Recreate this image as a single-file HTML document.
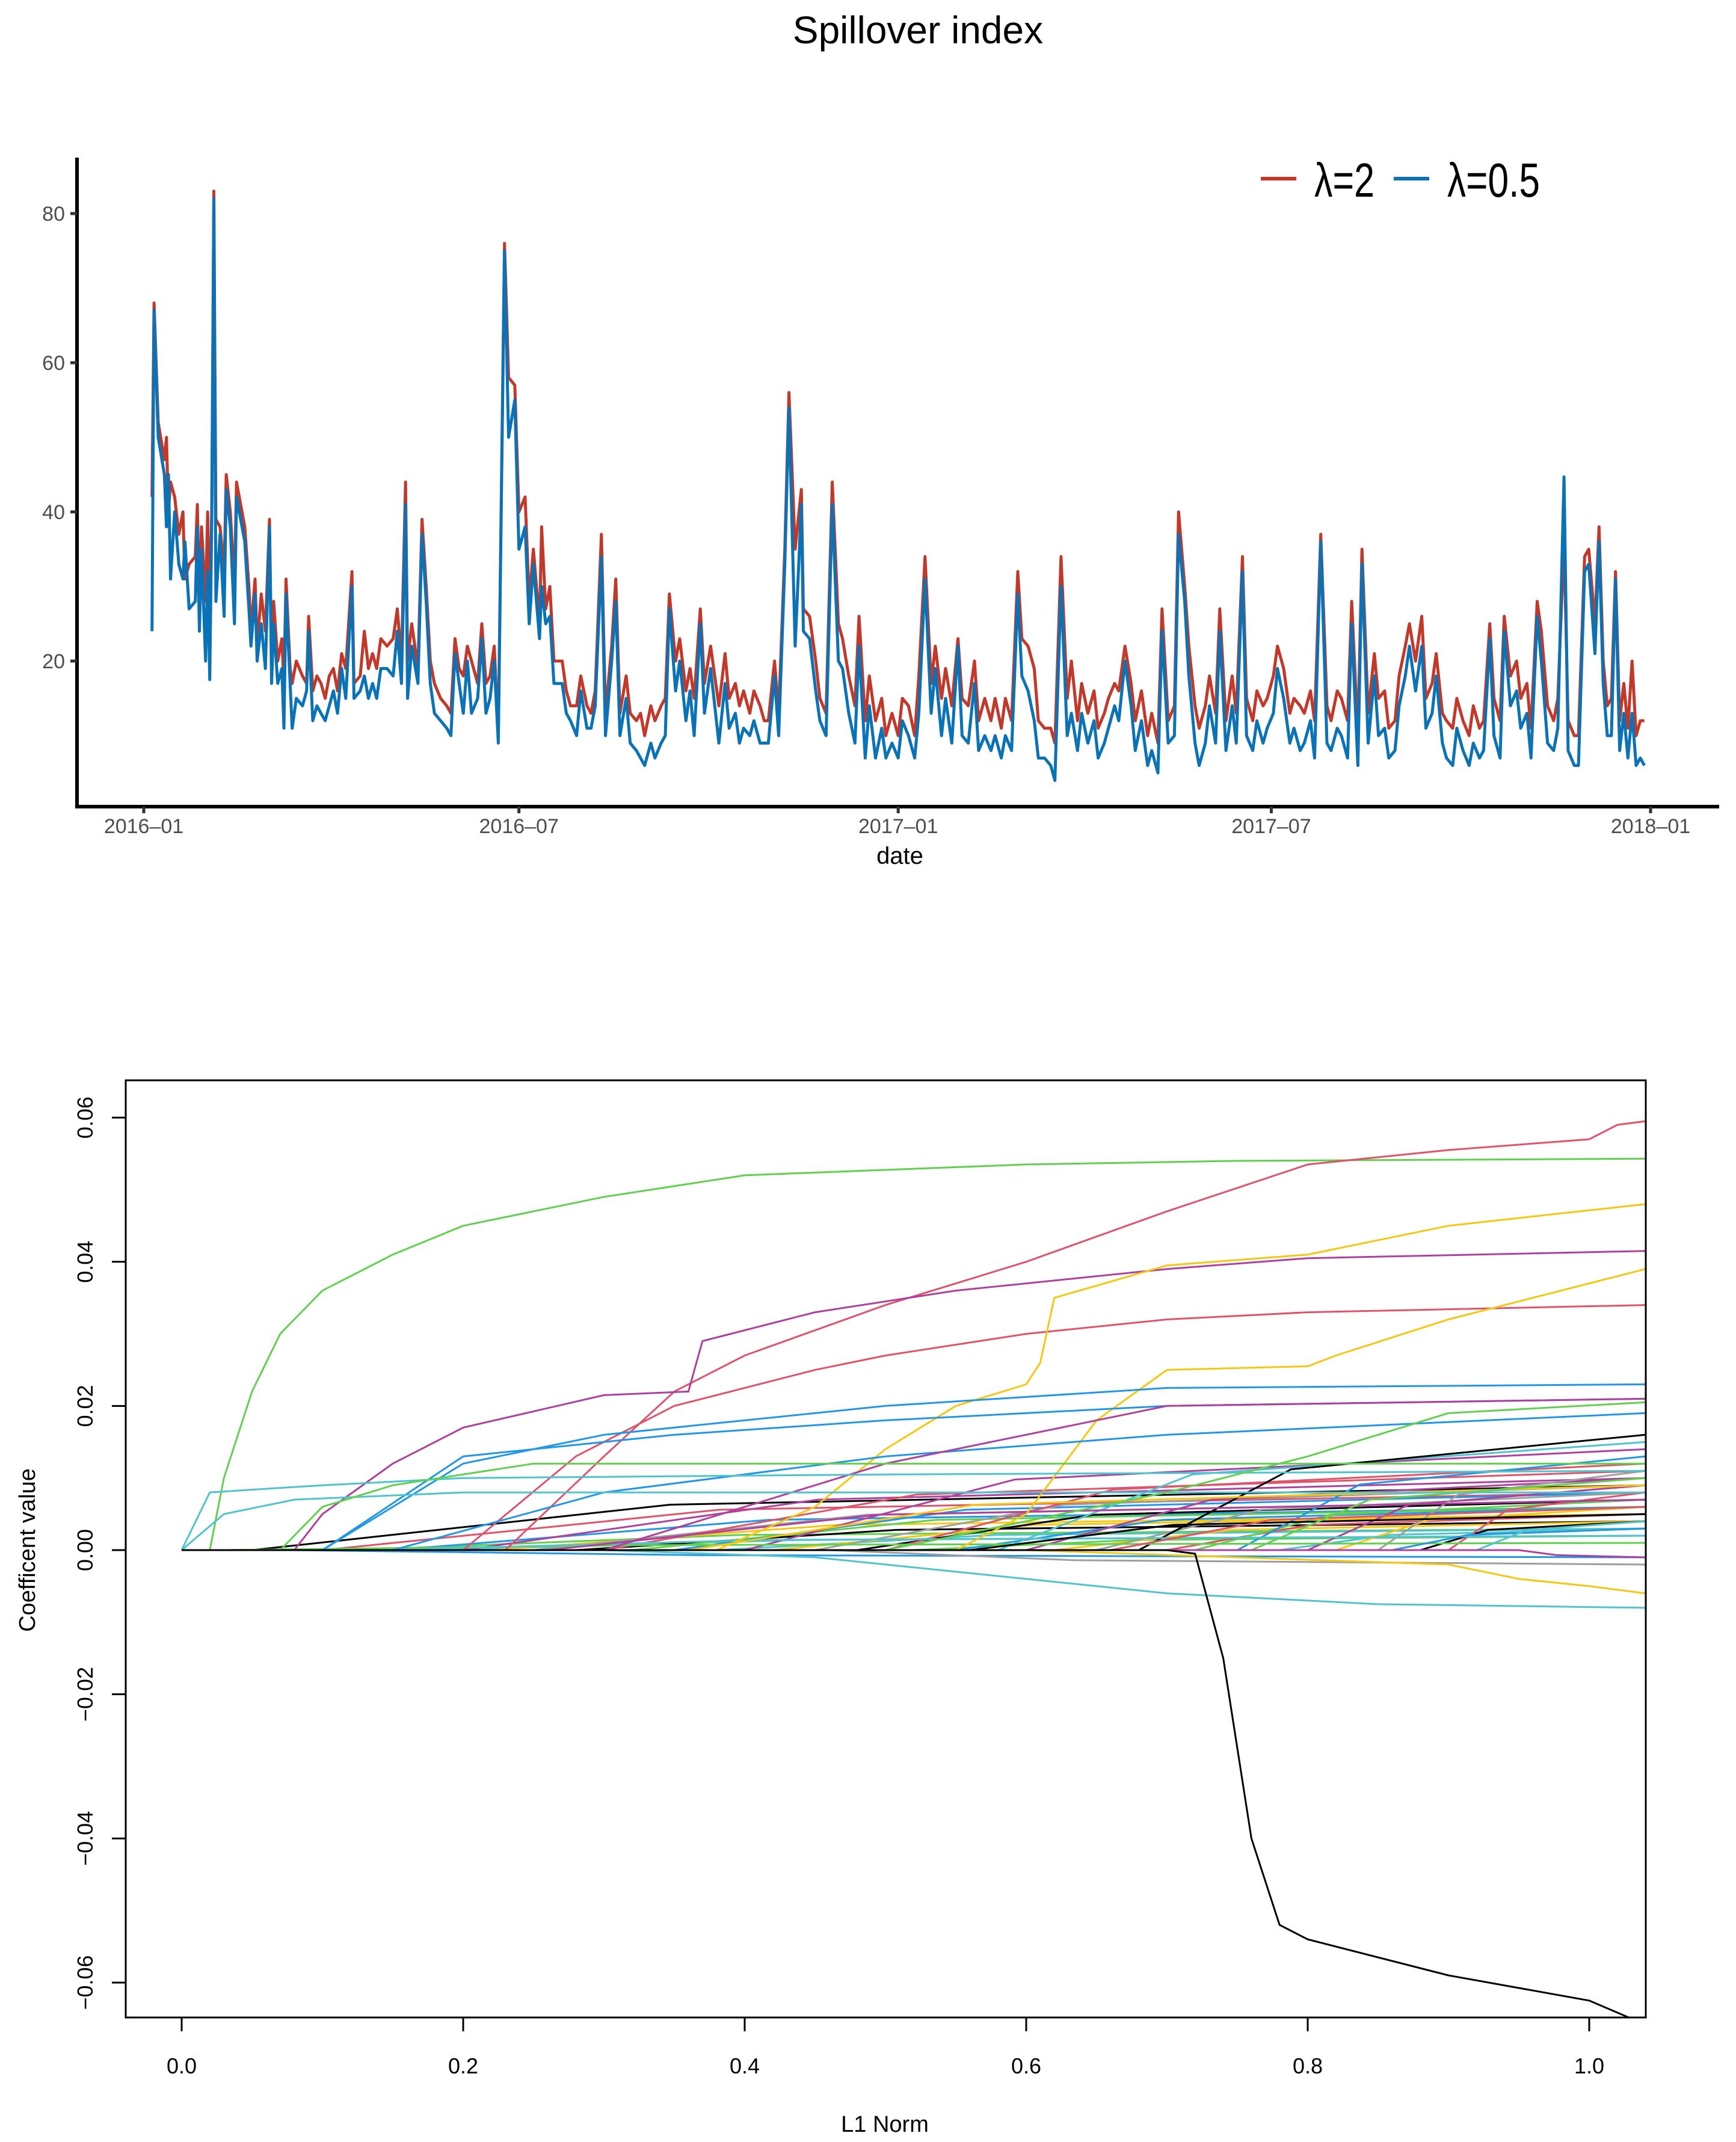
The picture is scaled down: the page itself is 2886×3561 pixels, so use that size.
<!DOCTYPE html>
<html><head><meta charset="utf-8"><style>
html,body{margin:0;padding:0;background:#fff}
svg{display:block}
text{font-family:"Liberation Sans",sans-serif}
</style></head><body>
<svg id="fig" xmlns="http://www.w3.org/2000/svg" width="2886" height="3561" viewBox="0 0 2886 3561">
<rect x="0" y="0" width="2886" height="3561" fill="#fff"/>
<text x="1526" y="72" font-size="64" text-anchor="middle" fill="#000">Spillover index</text>
<g id="top"></g>
<g id="bot"></g>
</svg>
<script>
// ---------- Top chart data ----------
const tDays = [4,5,7,10,11,12,13,15,17,19,20,22,25,26,27,28,30,31,32,33,34,35,37,39,40,42,44,45,49,51,52,54,55,57,59,61,62,63,65,67,68,69,71,72,74,77,79,80,82,84,86,88,90,92,94,96,98,101,102,105,107,109,111,113,115,118,121,123,125,127,128,130,133,135,137,139,141,144,147,149,151,153,155,157,159,162,164,166,168,170,172,175,177,180,182,185,187,189,192,193,195,197,199,203,205,207,210,212,215,217,219,222,224,227,229,231,234,236,239,241,243,246,248,251,253,255,258,260,263,265,267,270,272,275,277,279,282,284,287,289,291,294,296,299,301,303,306,308,311,313,316,319,320,323,326,328,331,334,337,339,342,345,347,350,352,355,358,360,363,366,368,371,374,376,379,382,384,387,389,392,395,397,400,403,405,408,411,413,416,418,421,424,426,429,432,434,437,440,442,445,448,450,453,455,458,461,463,466,468,471,473,476,479,481,484,487,489,492,494,497,500,502,505,507,510,512,515,517,520,522,525,528,530,533,535,538,540,543,545,548,550,553,556,558,561,563,566,568,571,574,576,579,581,584,586,589,591,594,597,599,602,604,607,609,612,614,617,620,622,625,627,630,632,635,637,640,643,645,648,650,653,655,658,660,663,666,668,671,673,676,678,681,684,686,689,691,694,696,699,701,704,706,708,710,712,714,716,718,720,722,724,726,728];
const redVals = [42,68,52,47,50,40,44,42,37,40,31,33,34,41,27,38,28,40,24,41,83,39,38,32,45,40,30,44,38,30,24,31,22,29,24,39,20,28,20,23,17,31,19,17,20,18,17,26,16,18,17,15,18,19,16,21,19,32,17,18,24,19,21,19,23,22,23,27,20,44,20,25,19,39,30,20,17,15,14,13,23,19,18,22,20,17,25,17,18,22,10,76,58,57,40,42,28,35,25,38,27,30,20,20,16,14,14,18,14,13,16,37,13,22,31,13,18,13,12,13,10,14,12,14,15,29,20,23,16,19,15,27,17,22,18,14,21,15,17,14,16,13,16,14,12,12,20,13,35,56,35,43,27,26,20,15,13,44,25,23,18,14,26,12,18,12,15,10,13,10,15,14,10,18,34,17,22,15,19,14,23,15,14,20,12,15,12,15,11,15,12,32,23,22,19,12,11,11,9,34,15,20,12,17,13,16,11,13,15,17,16,22,17,12,16,10,13,9,27,12,14,40,30,22,14,11,14,18,13,27,12,18,13,34,15,12,16,14,15,18,22,19,13,15,14,13,16,12,37,14,12,16,15,12,28,10,35,13,21,15,16,11,12,18,22,25,20,26,15,17,21,13,12,11,15,12,10,14,11,12,25,15,12,26,18,20,15,17,11,28,24,14,12,15,36,12,10,10,34,35,25,38,20,14,15,32,12,17,11,20,10,12,12,11,12];
const blueVals = [24,67,50,45,38,45,31,40,33,31,36,27,28,38,24,35,20,32,17.5,40,82,28,37,26,43,38,25,42,36,27,22,29,20,25,19,38,17,25,17,19,11,29,17,11,15,14,16,24,12,14,13,12,14,16,13,19,15,30,15,16,18,15,17,15,19,19,18,24,17,41,15,22,17,37,28,17,13,12,11,10,21,17,13,20,13,15,23,13,15,20,9,75,50,55,35,38,25,33,23,30,25,26,17,17,13,12,10,16,11,11,14,34,10,20,28,10,15,9,8,7,6,9,7,9,10,27,16,20,12,16,10,25,13,19,14,9,17,11,13,9,11,10,12,9,9,9,18,10,33,54,22,41,24,23,16,12,10,41,20,19,13,9,22,7,14,7,11,7,9,7,12,10,7,13,31,13,19,10,15,9,22,10,9,17,8,10,8,10,7,10,8,29,18,16,12,7,7,6,4,30,10,13,8,13,9,12,7,9,11,14,12,20,14,8,12,6,8,5,24,9,10,37,28,18,9,6,9,14,9,24,8,14,9,32,10,8,12,9,11,13,19,15,9,11,8,9,12,7,36,9,8,11,10,7,25,6,33,9,18,10,11,7,8,14,18,22,16,22,11,13,18,9,7,6,11,8,6,9,7,8,23,10,7,24,14,16,11,13,7,26,20,9,8,11,44.7,8,6,6,32,33,21,36,17,10,10,31,8,13,7,13,6,7,6,7,7];
const yTicks = [20,40,60,80];
const xTickDays = [0,182,366,547,731];
const xTickLabels = ["2016\u201301","2016\u201307","2017\u201301","2017\u201307","2018\u201301"];

// ---------- Bottom chart data ----------
const bigPaths = [
 {c:"#61D04F", p:[[0,0],[0.02,0],[0.03,0.01],[0.05,0.022],[0.07,0.03],[0.1,0.036],[0.15,0.041],[0.2,0.045],[0.3,0.049],[0.4,0.052],[0.6,0.0535],[0.75,0.054],[1.04,0.0543]]},
 {c:"#DF536B", p:[[0,0],[0.23,0],[0.3,0.013],[0.35,0.022],[0.4,0.027],[0.5,0.034],[0.6,0.04],[0.7,0.047],[0.8,0.0535],[0.9,0.0555],[1.0,0.057],[1.02,0.059],[1.04,0.0595]]},
 {c:"#B0409E", p:[[0,0],[0.08,0],[0.1,0.005],[0.15,0.012],[0.2,0.017],[0.3,0.0215],[0.36,0.022],[0.37,0.029],[0.45,0.033],[0.55,0.036],[0.7,0.039],[0.8,0.0405],[1.04,0.0415]]},
 {c:"#DF536B", p:[[0,0],[0.2,0],[0.28,0.013],[0.35,0.02],[0.45,0.025],[0.5,0.027],[0.6,0.03],[0.7,0.032],[0.8,0.033],[1.04,0.034]]},
 {c:"#F5C710", p:[[0,0],[0.38,0],[0.45,0.006],[0.5,0.014],[0.55,0.02],[0.6,0.023],[0.61,0.026],[0.62,0.035],[0.7,0.0395],[0.8,0.041],[0.9,0.045],[1.04,0.048]]},
 {c:"#F5C710", p:[[0,0],[0.55,0],[0.6,0.005],[0.65,0.018],[0.7,0.025],[0.8,0.0255],[0.82,0.027],[0.9,0.032],[0.98,0.036],[1.04,0.039]]},
 {c:"#2297E6", p:[[0,0],[0.1,0],[0.2,0.012],[0.3,0.016],[0.5,0.02],[0.7,0.0225],[1.04,0.023]]},
 {c:"#2297E6", p:[[0,0],[0.1,0],[0.2,0.013],[0.35,0.016],[0.5,0.018],[0.7,0.02],[1.04,0.021]]},
 {c:"#2297E6", p:[[0,0],[0.15,0],[0.3,0.008],[0.5,0.013],[0.7,0.016],[1.04,0.019]]},
 {c:"#B0409E", p:[[0,0],[0.3,0],[0.5,0.012],[0.7,0.02],[1.04,0.021]]},
 {c:"#4FC4CF", p:[[0,0],[0.02,0.008],[0.1,0.009],[0.2,0.01],[0.5,0.0105],[1.04,0.011]]},
 {c:"#4FC4CF", p:[[0,0],[0.03,0.005],[0.08,0.007],[0.2,0.008],[1.04,0.008]]},
 {c:"#4FC4CF", p:[[0,0],[0.3,0],[0.45,-0.001],[0.6,-0.004],[0.7,-0.006],[0.85,-0.0075],[1.04,-0.008]]},
 {c:"#F5C710", p:[[0,0],[0.6,0],[0.9,-0.002],[0.95,-0.004],[1.0,-0.005],[1.04,-0.006]]},
 {c:"#61D04F", p:[[0,0],[0.07,0],[0.1,0.006],[0.15,0.009],[0.25,0.012],[1.04,0.012]]},
 {c:"#61D04F", p:[[0,0],[0.5,0],[0.7,0.008],[0.8,0.013],[0.9,0.019],[1.04,0.0205]]},
 {c:"#000000", p:[[0,0],[0.7,0],[0.72,-0.0005],[0.74,-0.015],[0.76,-0.04],[0.78,-0.052],[0.8,-0.054],[0.9,-0.059],[1.0,-0.0625],[1.03,-0.065]]}
];
const smallStart = [0.05,0.1,0.12,0.15,0.18,0.2,0.22,0.25,0.28,0.3,0.32,0.35,0.38,0.4,0.42,0.45,0.48,0.5,0.52,0.55,0.58,0.6,0.62,0.65,0.68,0.7,0.72,0.75,0.78,0.8,0.82,0.85,0.88,0.9,0.03,0.08,0.14,0.26,0.36,0.46,0.56,0.66,0.76,0.86,0.92,0.95];
const smallEnd = [0.009,0.008,0.003,0.006,0.002,0.01,0.005,0.007,0.004,0.011,0.006,0.008,0.003,0.014,0.005,0.009,0.007,0.012,0.002,0.006,0.015,0.01,0.004,0.008,0.016,0.005,0.007,0.013,0.003,0.009,0.006,0.011,0.004,0.008,0.001,-0.001,0.002,0.007,0.009,-0.002,0.005,0.006,0.01,0.003,0.004,-0.001];
const palette = ["#000000","#DF536B","#61D04F","#2297E6","#4FC4CF","#B0409E","#F5C710","#9E9E9E"];
const bxTicks = [0,0.2,0.4,0.6,0.8,1.0];
const bxLabels = ["0.0","0.2","0.4","0.6","0.8","1.0"];
const byTicks = [-0.06,-0.04,-0.02,0,0.02,0.04,0.06];
const byLabels = ["\u22120.06","\u22120.04","\u22120.02","0.00","0.02","0.04","0.06"];

const NS = "http://www.w3.org/2000/svg";
function mk(parent, tag, attrs){const e=document.createElementNS(NS,tag);for(const k in attrs)e.setAttribute(k,attrs[k]);parent.appendChild(e);return e;}

// ---------- Top chart ----------
(function(){
 const g=document.getElementById('top');
 const X=d=>239+d*(2744-239)/731;
 const Y=v=>355+(80-v)*12.4;
 function series(vals,color,name){
  let d="";
  for(let i=0;i<tDays.length;i++){d+=(i?"L":"M")+X(tDays[i]).toFixed(1)+","+Y(vals[i]).toFixed(1);}
  const p=mk(g,'path',{d:d,fill:'none',stroke:color,'stroke-width':5,'stroke-linejoin':'round'});
  
  
 }
 series(redVals,'#C0392B','series-lambda-2');
 series(blueVals,'#0B72B6','series-lambda-0-5');
 const ax=mk(g,'path',{d:'M128,262V1341H2858',fill:'none',stroke:'#000','stroke-width':6});
 
 
 yTicks.forEach(v=>{
  const t=mk(g,'line',{x1:117,x2:128,y1:Y(v),y2:Y(v),stroke:'#333','stroke-width':5});
  
  
  const l=mk(g,'text',{x:108,y:Y(v)+12,'font-size':34,'text-anchor':'end',fill:'#4d4d4d'});
  l.textContent=v;
  
  
 });
 xTickDays.forEach((d,i)=>{
  const t=mk(g,'line',{x1:X(d),x2:X(d),y1:1341,y2:1352,stroke:'#333','stroke-width':5});
  
  
  const l=mk(g,'text',{x:X(d),y:1385,'font-size':34,'text-anchor':'middle',fill:'#4d4d4d'});
  l.textContent=xTickLabels[i];
  
  
 });
 const xt=mk(g,'text',{x:1496,y:1436,'font-size':40,'text-anchor':'middle',fill:'#000'});
 xt.textContent='date';
 
 
 const lg=mk(g,'g',{});
 
 
 const l1=mk(lg,'line',{x1:2096,x2:2155,y1:297,y2:297,stroke:'#C0392B','stroke-width':6});
 
 
 const t1=mk(lg,'text',{x:2185,y:327,'font-size':80,textLength:100,lengthAdjust:'spacingAndGlyphs',fill:'#000'});
 t1.textContent='\u03bb=2';
 
 
 const l2=mk(lg,'line',{x1:2317,x2:2376,y1:297,y2:297,stroke:'#0B72B6','stroke-width':6});
 
 
 const t2=mk(lg,'text',{x:2406,y:327,'font-size':80,textLength:154,lengthAdjust:'spacingAndGlyphs',fill:'#000'});
 t2.textContent='\u03bb=0.5';
 
 
})();

// ---------- Bottom chart ----------
(function(){
 const g=document.getElementById('bot');
 const X=L=>302+L*2340;
 const Y=v=>2577-v*11983;
 const clip=mk(g,'clipPath',{id:'bclip'});
 mk(clip,'rect',{x:209,y:1796,width:2527,height:1558});
 const pg=mk(g,'g',{'clip-path':'url(#bclip)'});
 
 
 function stepPath(pts,color,name){
  let d="M"+X(pts[0][0]).toFixed(1)+","+Y(pts[0][1]).toFixed(1);
  for(let i=1;i<pts.length;i++){d+="L"+X(pts[i][0]).toFixed(1)+","+Y(pts[i][1]).toFixed(1);}
  const p=mk(pg,'path',{d:d,fill:'none',stroke:color,'stroke-width':3});
  
  
 }
 smallStart.forEach((s,i)=>{
  const e=smallEnd[i];
  stepPath([[0,0],[s,0],[s+(1.04-s)*0.3,e*0.7],[1.04,e]],palette[i%8],'coef-path-small');
 });
 bigPaths.forEach(b=>stepPath(b.p,b.c,'coef-path'));
 const box=mk(g,'rect',{x:209,y:1796,width:2527,height:1558,fill:'none',stroke:'#000','stroke-width':3});
 
 
 bxTicks.forEach((v,i)=>{
  const t=mk(g,'line',{x1:X(v),x2:X(v),y1:3354,y2:3377,stroke:'#000','stroke-width':3});
  
  
  const l=mk(g,'text',{x:X(v),y:3447,'font-size':36,'text-anchor':'middle',fill:'#000'});
  l.textContent=bxLabels[i];
  
  
 });
 byTicks.forEach((v,i)=>{
  const t=mk(g,'line',{x1:186,x2:209,y1:Y(v),y2:Y(v),stroke:'#000','stroke-width':3});
  
  
  const l=mk(g,'text',{x:0,y:0,'font-size':36,'text-anchor':'middle',fill:'#000',transform:'translate(154,'+Y(v)+') rotate(-90)'});
  l.textContent=byLabels[i];
  
  
 });
 const xt=mk(g,'text',{x:1471,y:3544,'font-size':38,'text-anchor':'middle',fill:'#000'});
 xt.textContent='L1 Norm';
 
 
 const yt=mk(g,'text',{x:0,y:0,'font-size':38,'text-anchor':'middle',fill:'#000',transform:'translate(58,2577) rotate(-90)'});
 yt.textContent='Coefficent value';
 
 
})();
</script>
</body></html>
